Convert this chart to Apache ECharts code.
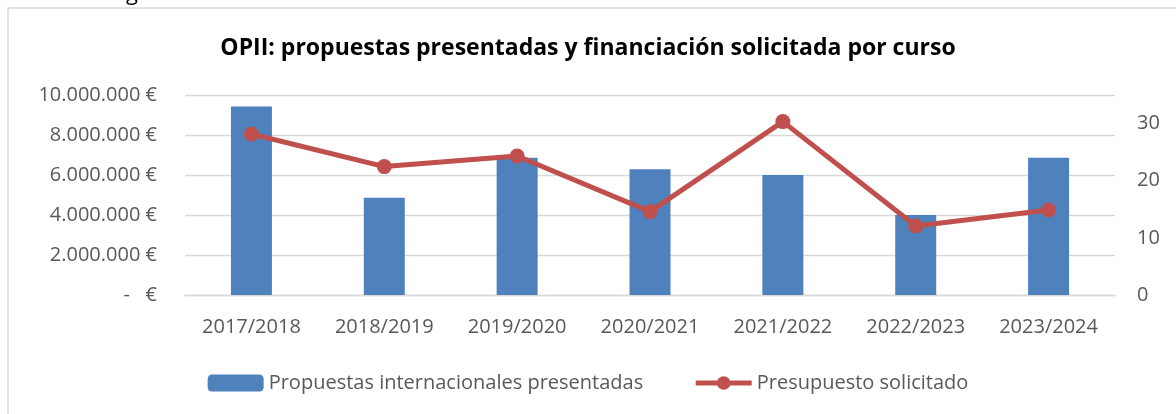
<!DOCTYPE html>
<html>
<head>
<meta charset="utf-8">
<script src="https://cdn.jsdelivr.net/npm/echarts@6/dist/echarts.min.js"></script>
<style>
  html, body { margin: 0; padding: 0; background: #fff; }
  #chart { width: 1176px; height: 414px; }
</style>
</head>
<body>
<div id="chart"></div>
<script>
// cursos
const cursos = ['2017/2018', '2018/2019', '2019/2020', '2020/2021', '2021/2022', '2022/2023', '2023/2024'];
// número de propuestas (eje derecho)
const propuestas = [33, 17, 24, 22, 21, 14, 24];
// presupuesto solicitado en euros (eje izquierdo)
const presupuesto = [8050000, 6420000, 6950000, 4170000, 8670000, 3450000, 4250000];
// etiquetas del eje izquierdo
const ticksEuro = [0, 2000000, 4000000, 6000000, 8000000, 10000000];

const font = "'Open Sans', sans-serif";
const gris = '#595959';

function euros(v) {
  if (v === 0) return '-   €';
  return String(v).replace(/\B(?=(\d{3})+(?!\d))/g, '.') + ' €';
}

const myChart = echarts.init(document.getElementById('chart'));
const option = {
  animation: false,
  textStyle: { fontFamily: font },
  title: {
    text: 'OPII: propuestas presentadas y financiación solicitada por curso',
    left: 'center',
    top: 32,
    textStyle: { fontFamily: font, fontSize: 23, fontWeight: 'bold', color: '#000' }
  },
  graphic: [
    {
      type: 'rect',
      shape: { x: 8, y: 8, width: 1300, height: 500 },
      style: { fill: 'none', stroke: '#D9D9D9', lineWidth: 1.5 },
      silent: true
    },
    {
      type: 'text',
      left: 110,
      top: -17,
      style: { text: 'siguiente.', fontFamily: font, fontSize: 22, fill: '#000' }
    }
  ],
  legend: {
    left: 'center',
    top: 368,
    itemWidth: 56,
    itemHeight: 17,
    itemGap: 50,
    textStyle: { fontFamily: font, fontSize: 20, color: gris },
    data: [
      { name: 'Propuestas internacionales presentadas' },
      { name: 'Presupuesto solicitado', lineStyle: { width: 5 } }
    ]
  },
  grid: { left: 185, right: 61, top: 95, bottom: 119, containLabel: false },
  xAxis: {
    type: 'category',
    data: cursos,
    axisTick: { show: false },
    axisLine: { lineStyle: { color: '#D9D9D9', width: 1.3 } },
    axisLabel: { color: gris, fontSize: 20, fontFamily: font, margin: 22 }
  },
  yAxis: [
    {
      type: 'value',
      min: ticksEuro[0],
      max: ticksEuro[ticksEuro.length - 1],
      interval: 2000000,
      axisLine: { show: false },
      axisTick: { show: false },
      splitLine: { lineStyle: { color: '#D9D9D9', width: 1.3 } },
      axisLabel: { color: gris, fontSize: 20, fontFamily: font, margin: 28, formatter: euros }
    },
    {
      type: 'value',
      min: 0,
      max: 35,
      interval: 10,
      axisLine: { show: false },
      axisTick: { show: false },
      splitLine: { show: false },
      axisLabel: {
        color: gris, fontSize: 20, fontFamily: font, margin: 22,
        formatter: function (v) { return v % 10 === 0 ? String(v) : ''; }
      }
    }
  ],
  series: [
    {
      name: 'Propuestas internacionales presentadas',
      type: 'bar',
      yAxisIndex: 1,
      barWidth: 41,
      itemStyle: { color: '#4F81BD' },
      data: propuestas
    },
    {
      name: 'Presupuesto solicitado',
      type: 'line',
      yAxisIndex: 0,
      symbol: 'circle',
      symbolSize: 15,
      lineStyle: { color: '#C0504D', width: 5 },
      itemStyle: { color: '#C0504D' },
      data: presupuesto
    }
  ]
};
myChart.setOption(option);
window.addEventListener('resize', function () {
  myChart.resize();
});
</script>
</body>
</html>
